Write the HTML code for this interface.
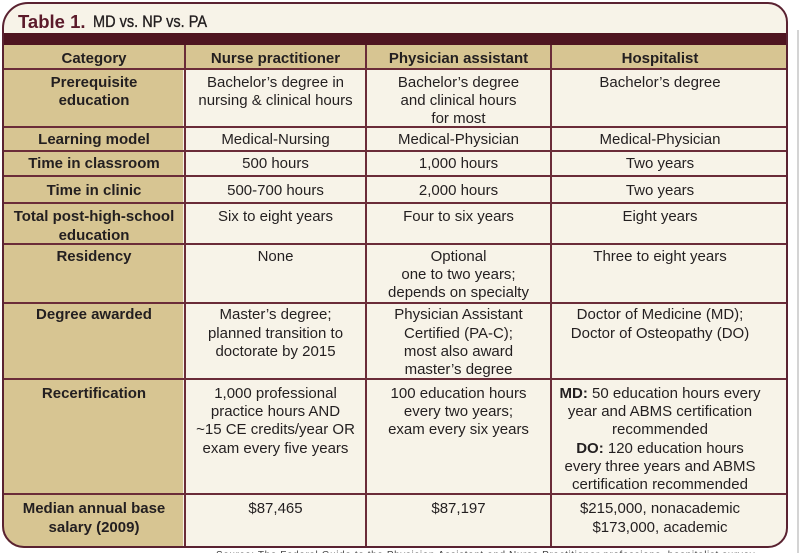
<!DOCTYPE html>
<html><head><meta charset="utf-8"><style>
*{margin:0;padding:0;box-sizing:border-box}
html,body{width:800px;height:553px;background:#fff;overflow:hidden;position:relative;font-family:"Liberation Sans",Arial,sans-serif;color:#231f20}
#clip{position:absolute;left:2px;top:2px;width:786px;height:546px;border-radius:26px 20px 20px 22px;overflow:hidden;background:#f7f3e8}
#frame{position:absolute;left:2px;top:2px;width:786px;height:546px;border-radius:26px 20px 20px 22px;border:2px solid #5a2231;z-index:5}
.a{position:absolute}
.h{position:absolute;left:0;width:786px;height:1.6px;background:#6b2c38}
.v{position:absolute;top:43px;width:1.6px;height:510px;background:#6b2c38}
.t{position:absolute;text-align:center;font-size:15px;line-height:18.2px;white-space:nowrap;margin-top:2.5px}
.b{font-weight:bold}
</style></head><body>
<div id="clip">
  <div class="a" style="left:16px;top:10px;font-size:18.5px;line-height:20px;font-weight:bold;color:#5b1a2a;white-space:nowrap">Table 1.</div>
  <div class="a" style="left:91px;top:10px;font-size:16.5px;line-height:20px;white-space:nowrap;transform:scaleX(0.88);transform-origin:0 0;-webkit-text-stroke:0.35px #231f20">MD vs. NP vs. PA</div>
  <div class="a" style="left:0;top:31px;width:786px;height:12px;background:#4f1520"></div>
  <div class="a" style="left:0;top:43px;width:786px;height:24px;background:#d7c592"></div>
  <div class="a" style="left:0;top:67px;width:181px;height:480px;background:#d7c592"></div>
  <div class="h" style="top:66.4px"></div>
  <div class="h" style="top:124.4px"></div>
  <div class="h" style="top:148.4px"></div>
  <div class="h" style="top:173.4px"></div>
  <div class="h" style="top:200.4px"></div>
  <div class="h" style="top:241.4px"></div>
  <div class="h" style="top:300.4px"></div>
  <div class="h" style="top:376.4px"></div>
  <div class="h" style="top:491.4px"></div>
  <div class="v" style="left:182.2px"></div>
  <div class="v" style="left:363.2px"></div>
  <div class="v" style="left:548.2px"></div>

  <div class="t b" style="left:1px;width:182px;top:45.4px">Category</div>
  <div class="t b" style="left:183px;width:181px;top:45.4px">Nurse practitioner</div>
  <div class="t b" style="left:364px;width:185px;top:45.4px">Physician assistant</div>
  <div class="t b" style="left:549px;width:218px;top:45.4px">Hospitalist</div>

  <div class="t b" style="left:1px;width:182px;top:69.4px">Prerequisite<br>education</div>
  <div class="t" style="left:183px;width:181px;top:69.4px">Bachelor’s degree in<br>nursing &amp; clinical hours</div>
  <div class="t" style="left:364px;width:185px;top:69.4px">Bachelor’s degree<br>and clinical hours<br>for most</div>
  <div class="t" style="left:549px;width:218px;top:69.4px">Bachelor’s degree</div>

  <div class="t b" style="left:1px;width:182px;top:126.4px">Learning model</div>
  <div class="t" style="left:183px;width:181px;top:126.4px">Medical-Nursing</div>
  <div class="t" style="left:364px;width:185px;top:126.4px">Medical-Physician</div>
  <div class="t" style="left:549px;width:218px;top:126.4px">Medical-Physician</div>

  <div class="t b" style="left:1px;width:182px;top:150.4px">Time in classroom</div>
  <div class="t" style="left:183px;width:181px;top:150.4px">500 hours</div>
  <div class="t" style="left:364px;width:185px;top:150.4px">1,000 hours</div>
  <div class="t" style="left:549px;width:218px;top:150.4px">Two years</div>

  <div class="t b" style="left:1px;width:182px;top:177.1px">Time in clinic</div>
  <div class="t" style="left:183px;width:181px;top:177.1px">500-700 hours</div>
  <div class="t" style="left:364px;width:185px;top:177.1px">2,000 hours</div>
  <div class="t" style="left:549px;width:218px;top:177.1px">Two years</div>

  <div class="t b" style="left:1px;width:182px;top:203.8px">Total post-high-school<br>education</div>
  <div class="t" style="left:183px;width:181px;top:203.8px">Six to eight years</div>
  <div class="t" style="left:364px;width:185px;top:203.8px">Four to six years</div>
  <div class="t" style="left:549px;width:218px;top:203.8px">Eight years</div>

  <div class="t b" style="left:1px;width:182px;top:243.5px">Residency</div>
  <div class="t" style="left:183px;width:181px;top:243.5px">None</div>
  <div class="t" style="left:364px;width:185px;top:243.5px">Optional<br>one to two years;<br>depends on specialty</div>
  <div class="t" style="left:549px;width:218px;top:243.5px">Three to eight years</div>

  <div class="t b" style="left:1px;width:182px;top:301.8px">Degree awarded</div>
  <div class="t" style="left:183px;width:181px;top:301.8px">Master’s degree;<br>planned transition to<br>doctorate by 2015</div>
  <div class="t" style="left:364px;width:185px;top:301.8px">Physician Assistant<br>Certified (PA-C);<br>most also award<br>master’s degree</div>
  <div class="t" style="left:549px;width:218px;top:301.8px">Doctor of Medicine (MD);<br>Doctor of Osteopathy (DO)</div>

  <div class="t b" style="left:1px;width:182px;top:380.4px">Recertification</div>
  <div class="t" style="left:183px;width:181px;top:380.4px">1,000 professional<br>practice hours AND<br>~15 CE credits/year OR<br>exam every five years</div>
  <div class="t" style="left:364px;width:185px;top:380.4px">100 education hours<br>every two years;<br>exam every six years</div>
  <div class="t" style="left:549px;width:218px;top:380.4px"><b>MD:</b> 50 education hours every<br>year and ABMS certification<br>recommended<br><b>DO:</b> 120 education hours<br>every three years and ABMS<br>certification recommended</div>

  <div class="t b" style="left:1px;width:182px;top:495.8px">Median annual base<br>salary (2009)</div>
  <div class="t" style="left:183px;width:181px;top:495.8px">$87,465</div>
  <div class="t" style="left:364px;width:185px;top:495.8px">$87,197</div>
  <div class="t" style="left:549px;width:218px;top:495.8px">$215,000, nonacademic<br>$173,000, academic</div>
</div>
<div id="frame"></div>
<div class="a" style="left:797px;top:30px;width:2px;height:523px;background:#d4d4d4"></div>
<div class="a" style="left:216px;top:550px;font-size:10px;line-height:12px;color:#444;white-space:nowrap;letter-spacing:0.6px">Source: The Federal Guide to the Physician Assistant and Nurse Practitioner professions, hospitalist survey</div>
</body></html>
